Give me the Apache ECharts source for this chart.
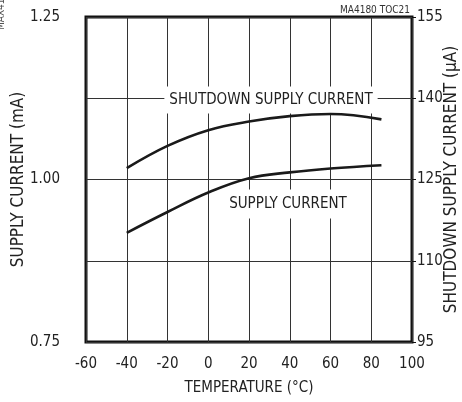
<!DOCTYPE html>
<html>
<head>
<meta charset="utf-8">
<script src="https://cdn.jsdelivr.net/npm/echarts@6/dist/echarts.min.js"></script>
<style>
html,body{margin:0;padding:0;background:#fff;}
#c{width:462px;height:402px;}
</style>
</head>
<body>
<div id="c"></div>
<script>
// Data
const temperature = [-40, -20, 0, 20, 40, 60, 85];
const supplyCurrent_mA = [0.918, 0.950, 0.980, 1.002, 1.011, 1.017, 1.022];
const shutdownCurrent_uA = [127.1, 131.2, 134.1, 135.7, 136.7, 137.1, 136.1];
const xTicks = [-60, -40, -20, 0, 20, 40, 60, 80, 100];
const leftTickLabels = ['0.75', '1.00', '1.25'];
const rightTicks = [95, 110, 125, 140, 155];

const FONT = "'Liberation Sans Narrow', 'DejaVu Sans Condensed', sans-serif";
const TXT = '#222';
const FS = 15;
const FS_NAME = 17;

const chart = echarts.init(document.getElementById('c'), null, {renderer: 'canvas'});

function pairs(xs, ys) { return xs.map((x, i) => [x, ys[i]]); }

chart.setOption({
  animation: false,
  backgroundColor: '#fff',
  textStyle: {fontFamily: FONT},
  grid: {left: 86, right: 50, top: 17, bottom: 60, show: true, borderColor: '#111', borderWidth: 3, containLabel: false, outerBoundsMode: 'none'},
  xAxis: {
    type: 'value', min: xTicks[0], max: xTicks[xTicks.length - 1], interval: 20,
    name: 'TEMPERATURE (°C)', nameLocation: 'middle', nameGap: 39, nameMoveOverlap: false,
    nameTextStyle: {fontFamily: FONT, fontSize: FS, color: TXT},
    axisLine: {show: false}, axisTick: {show: false},
    axisLabel: {fontFamily: FONT, fontSize: FS, color: TXT, margin: 15},
    splitLine: {show: true, lineStyle: {color: '#333', width: 1}}
  },
  yAxis: [
    {
      type: 'value', min: 0.75, max: 1.25, interval: 0.125, position: 'left',
      name: 'SUPPLY CURRENT (mA)', nameLocation: 'middle', nameGap: 59, nameMoveOverlap: false,
      nameTextStyle: {fontFamily: FONT, fontSize: FS_NAME, color: TXT},
      axisLine: {show: false}, axisTick: {show: false},
      axisLabel: {
        fontFamily: FONT, fontSize: FS, color: TXT, margin: 26,
        formatter: v => { const s = v.toFixed(2); return leftTickLabels.indexOf(s) >= 0 ? s : ''; }
      },
      splitLine: {show: true, lineStyle: {color: '#333', width: 1}}
    },
    {
      type: 'value', min: rightTicks[0], max: rightTicks[rightTicks.length - 1], interval: 15, position: 'right',
      name: 'SHUTDOWN SUPPLY CURRENT (µA)', nameLocation: 'middle', nameGap: 31, nameMoveOverlap: false,
      nameTextStyle: {fontFamily: FONT, fontSize: FS_NAME, color: TXT},
      axisLine: {show: false},
      axisTick: {show: true, length: 4, lineStyle: {color: '#111', width: 1}},
      axisLabel: {fontFamily: FONT, fontSize: FS, color: TXT, margin: 5},
      splitLine: {show: false}
    }
  ],
  series: [
    {
      name: 'SUPPLY CURRENT', type: 'line', yAxisIndex: 0, smooth: 0.4, symbol: 'none',
      data: pairs(temperature, supplyCurrent_mA),
      lineStyle: {color: '#1a1a1a', width: 2.6}, z: 5
    },
    {
      name: 'SHUTDOWN SUPPLY CURRENT', type: 'line', yAxisIndex: 1, smooth: 0.4, symbol: 'none',
      data: pairs(temperature, shutdownCurrent_uA),
      lineStyle: {color: '#1a1a1a', width: 2.6}, z: 5
    }
  ],
  graphic: [
    {type: 'text', z: 3, x: 271, y: 100, style: {text: 'SHUTDOWN SUPPLY CURRENT', font: FS + 'px ' + FONT, fill: TXT, align: 'center', verticalAlign: 'middle', backgroundColor: '#fff', padding: [6, 5]}},
    {type: 'text', z: 3, x: 288, y: 204, style: {text: 'SUPPLY CURRENT', font: FS + 'px ' + FONT, fill: TXT, align: 'center', verticalAlign: 'middle', backgroundColor: '#fff', padding: [7, 5]}},
    {type: 'text', z: 3, x: 410, y: 10, style: {text: 'MA4180 TOC21', font: '10px ' + FONT, fill: '#333', align: 'right', verticalAlign: 'middle'}},
    {type: 'text', z: 3, x: 1, y: 30, rotation: Math.PI / 2, style: {text: 'MAX4180 TOC20', font: '10px ' + FONT, fill: '#555', align: 'left', verticalAlign: 'middle'}}
  ]
});
</script>
</body>
</html>
